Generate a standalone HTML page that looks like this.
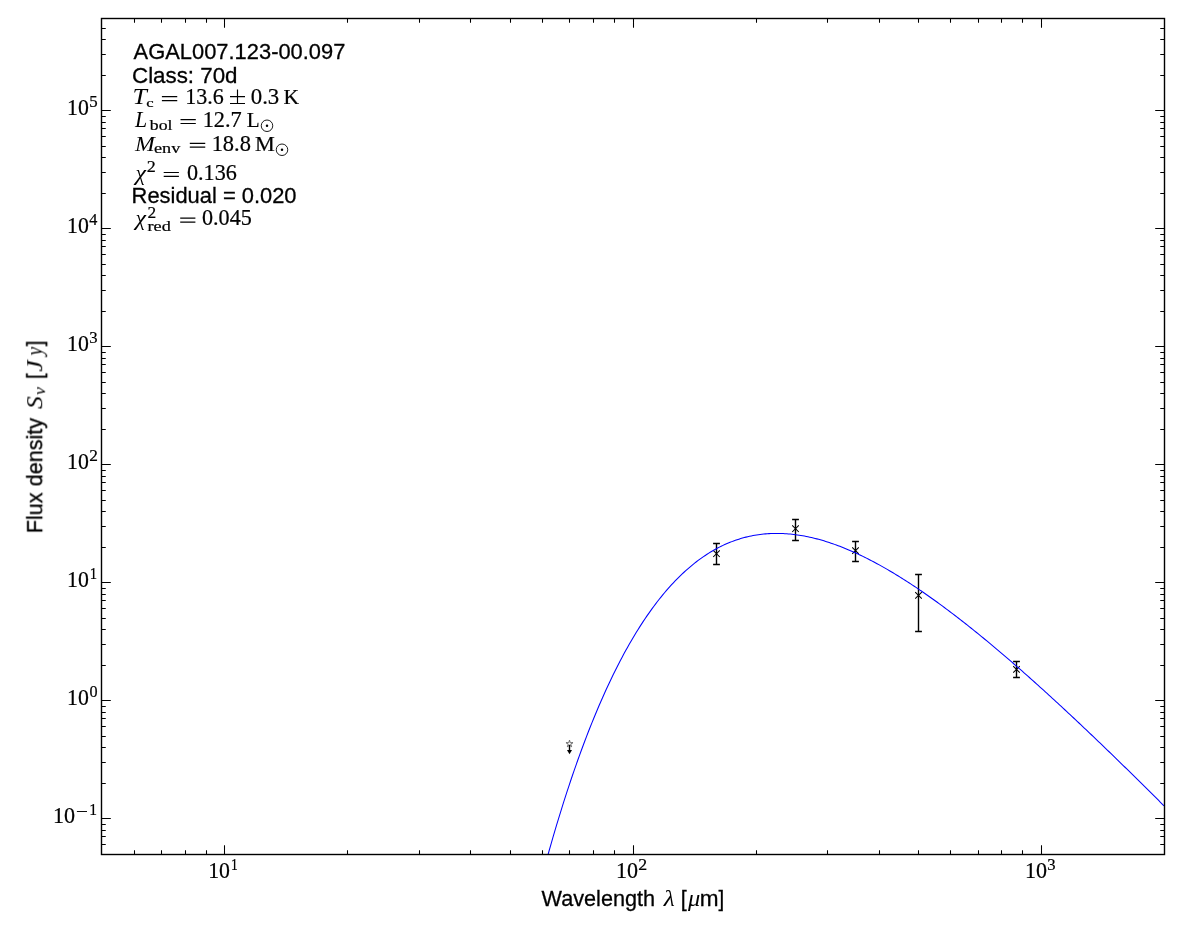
<!DOCTYPE html>
<html><head><meta charset="utf-8"><title>SED AGAL007.123-00.097</title>
<style>html,body{margin:0;padding:0;background:#fff;}body{width:1200px;height:933px;overflow:hidden;font-family:"Liberation Sans",sans-serif;}svg{display:block}text{fill:#000}</style></head><body>
<svg xmlns="http://www.w3.org/2000/svg" width="1200" height="933" viewBox="0 0 1200 933">
<rect x="0" y="0" width="1200" height="933" fill="#ffffff"/>
<defs><clipPath id="ax"><rect x="101.5" y="18.5" width="1063" height="836"/></clipPath></defs>
<path d="M134.5 854.5V850.25M134.5 18.5V22.75M161.5 854.5V850.25M161.5 18.5V22.75M185.5 854.5V850.25M185.5 18.5V22.75M206.5 854.5V850.25M206.5 18.5V22.75M224.5 854.5V845.2M224.5 18.5V27.8M347.5 854.5V850.25M347.5 18.5V22.75M419.5 854.5V850.25M419.5 18.5V22.75M470.5 854.5V850.25M470.5 18.5V22.75M510.5 854.5V850.25M510.5 18.5V22.75M542.5 854.5V850.25M542.5 18.5V22.75M569.5 854.5V850.25M569.5 18.5V22.75M593.5 854.5V850.25M593.5 18.5V22.75M614.5 854.5V850.25M614.5 18.5V22.75M633.5 854.5V845.2M633.5 18.5V27.8M756.5 854.5V850.25M756.5 18.5V22.75M827.5 854.5V850.25M827.5 18.5V22.75M879.5 854.5V850.25M879.5 18.5V22.75M918.5 854.5V850.25M918.5 18.5V22.75M950.5 854.5V850.25M950.5 18.5V22.75M978.5 854.5V850.25M978.5 18.5V22.75M1001.5 854.5V850.25M1001.5 18.5V22.75M1022.5 854.5V850.25M1022.5 18.5V22.75M1041.5 854.5V845.2M1041.5 18.5V27.8M101.5 844.5H105.75M1164.5 844.5H1160.25M101.5 836.5H105.75M1164.5 836.5H1160.25M101.5 830.5H105.75M1164.5 830.5H1160.25M101.5 824.5H105.75M1164.5 824.5H1160.25M101.5 818.5H110.8M1164.5 818.5H1155.2M101.5 783.5H105.75M1164.5 783.5H1160.25M101.5 762.5H105.75M1164.5 762.5H1160.25M101.5 747.5H105.75M1164.5 747.5H1160.25M101.5 736.5H105.75M1164.5 736.5H1160.25M101.5 726.5H105.75M1164.5 726.5H1160.25M101.5 718.5H105.75M1164.5 718.5H1160.25M101.5 712.5H105.75M1164.5 712.5H1160.25M101.5 706.5H105.75M1164.5 706.5H1160.25M101.5 700.5H110.8M1164.5 700.5H1155.2M101.5 665.5H105.75M1164.5 665.5H1160.25M101.5 644.5H105.75M1164.5 644.5H1160.25M101.5 629.5H105.75M1164.5 629.5H1160.25M101.5 618.5H105.75M1164.5 618.5H1160.25M101.5 608.5H105.75M1164.5 608.5H1160.25M101.5 600.5H105.75M1164.5 600.5H1160.25M101.5 594.5H105.75M1164.5 594.5H1160.25M101.5 588.5H105.75M1164.5 588.5H1160.25M101.5 582.5H110.8M1164.5 582.5H1155.2M101.5 547.5H105.75M1164.5 547.5H1160.25M101.5 526.5H105.75M1164.5 526.5H1160.25M101.5 511.5H105.75M1164.5 511.5H1160.25M101.5 500.5H105.75M1164.5 500.5H1160.25M101.5 490.5H105.75M1164.5 490.5H1160.25M101.5 482.5H105.75M1164.5 482.5H1160.25M101.5 476.5H105.75M1164.5 476.5H1160.25M101.5 470.5H105.75M1164.5 470.5H1160.25M101.5 464.5H110.8M1164.5 464.5H1155.2M101.5 429.5H105.75M1164.5 429.5H1160.25M101.5 408.5H105.75M1164.5 408.5H1160.25M101.5 393.5H105.75M1164.5 393.5H1160.25M101.5 382.5H105.75M1164.5 382.5H1160.25M101.5 372.5H105.75M1164.5 372.5H1160.25M101.5 364.5H105.75M1164.5 364.5H1160.25M101.5 358.5H105.75M1164.5 358.5H1160.25M101.5 352.5H105.75M1164.5 352.5H1160.25M101.5 346.5H110.8M1164.5 346.5H1155.2M101.5 311.5H105.75M1164.5 311.5H1160.25M101.5 290.5H105.75M1164.5 290.5H1160.25M101.5 275.5H105.75M1164.5 275.5H1160.25M101.5 264.5H105.75M1164.5 264.5H1160.25M101.5 254.5H105.75M1164.5 254.5H1160.25M101.5 246.5H105.75M1164.5 246.5H1160.25M101.5 240.5H105.75M1164.5 240.5H1160.25M101.5 234.5H105.75M1164.5 234.5H1160.25M101.5 228.5H110.8M1164.5 228.5H1155.2M101.5 193.5H105.75M1164.5 193.5H1160.25M101.5 172.5H105.75M1164.5 172.5H1160.25M101.5 157.5H105.75M1164.5 157.5H1160.25M101.5 146.5H105.75M1164.5 146.5H1160.25M101.5 136.5H105.75M1164.5 136.5H1160.25M101.5 128.5H105.75M1164.5 128.5H1160.25M101.5 122.5H105.75M1164.5 122.5H1160.25M101.5 116.5H105.75M1164.5 116.5H1160.25M101.5 110.5H110.8M1164.5 110.5H1155.2M101.5 75.5H105.75M1164.5 75.5H1160.25M101.5 54.5H105.75M1164.5 54.5H1160.25M101.5 39.5H105.75M1164.5 39.5H1160.25M101.5 28.5H105.75M1164.5 28.5H1160.25M101.5 18.5H105.75M1164.5 18.5H1160.25" stroke="#000" stroke-width="1.05" fill="none"/>
<path d="M716.5 543.5V564.5M713.1 543.5H719.9M713.1 564.5H719.9M795.5 519.5V540.5M792.1 519.5H798.9M792.1 540.5H798.9M855.5 541.5V561.5M852.1 541.5H858.9M852.1 561.5H858.9M918.5 574.5V631.5M915.1 574.5H921.9M915.1 631.5H921.9M1016.5 661.5V677.5M1013.1 661.5H1019.9M1013.1 677.5H1019.9" stroke="#000" stroke-width="1.4" fill="none"/>
<path d="M713.2 550.4L719.8 557M713.2 557L719.8 550.4M792.2 525.4L798.8 532M792.2 532L798.8 525.4M852.2 547.3L858.8 553.9M852.2 553.9L858.8 547.3M915.2 592.1L921.8 598.7M915.2 598.7L921.8 592.1M1013.2 666.1L1019.8 672.7M1013.2 672.7L1019.8 666.1" stroke="#000" stroke-width="1.05" fill="none"/>
<polygon points="569.5 740.1 570.26 742.75 573.02 742.66 570.74 744.2 571.67 746.79 569.5 745.1 567.33 746.79 568.26 744.2 565.98 742.66 568.74 742.75" fill="#fff" stroke="#6a6a6a" stroke-width="1"/>
<path d="M569.5 745V750.6" stroke="#000" stroke-width="1.4" fill="none"/>
<polygon points="567 750 572 750 569.5 754.3" fill="#000"/>
<path d="M533.46 909.58L535.23 902.57L537 895.65L538.77 888.82L540.54 882.08L542.31 875.43L544.08 868.87L545.86 862.41L547.63 856.03L549.4 849.74L551.17 843.53L552.94 837.41L554.71 831.38L556.48 825.43L558.25 819.56L560.02 813.78L561.8 808.08L563.57 802.45L565.34 796.91L567.11 791.45L568.88 786.07L570.65 780.76L572.42 775.53L574.19 770.38L575.96 765.3L577.74 760.3L579.51 755.37L581.28 750.51L583.05 745.73L584.82 741.01L586.59 736.37L588.36 731.8L590.13 727.3L591.9 722.87L593.68 718.5L595.45 714.21L597.22 709.98L598.99 705.81L600.76 701.71L602.53 697.68L604.3 693.71L606.07 689.8L607.84 685.96L609.62 682.18L611.39 678.46L613.16 674.81L614.93 671.21L616.7 667.67L618.47 664.19L620.24 660.77L622.01 657.41L623.78 654.11L625.56 650.86L627.33 647.67L629.1 644.54L630.87 641.46L632.64 638.43L634.41 635.46L636.18 632.55L637.95 629.68L639.73 626.87L641.5 624.12L643.27 621.41L645.04 618.75L646.81 616.15L648.58 613.59L650.35 611.08L652.12 608.63L653.89 606.22L655.67 603.86L657.44 601.55L659.21 599.28L660.98 597.06L662.75 594.89L664.52 592.76L666.29 590.68L668.06 588.64L669.83 586.65L671.61 584.7L673.38 582.79L675.15 580.93L676.92 579.11L678.69 577.33L680.46 575.6L682.23 573.9L684 572.25L685.77 570.63L687.55 569.06L689.32 567.53L691.09 566.03L692.86 564.57L694.63 563.16L696.4 561.78L698.17 560.44L699.94 559.13L701.71 557.87L703.49 556.63L705.26 555.44L707.03 554.28L708.8 553.16L710.57 552.07L712.34 551.02L714.11 550L715.88 549.01L717.66 548.06L719.43 547.14L721.2 546.26L722.97 545.4L724.74 544.58L726.51 543.79L728.28 543.04L730.05 542.31L731.82 541.62L733.6 540.95L735.37 540.32L737.14 539.72L738.91 539.14L740.68 538.6L742.45 538.08L744.22 537.59L745.99 537.13L747.76 536.7L749.54 536.3L751.31 535.93L753.08 535.58L754.85 535.26L756.62 534.96L758.39 534.7L760.16 534.45L761.93 534.24L763.7 534.05L765.48 533.88L767.25 533.74L769.02 533.62L770.79 533.53L772.56 533.47L774.33 533.42L776.1 533.4L777.87 533.4L779.64 533.43L781.42 533.48L783.19 533.55L784.96 533.65L786.73 533.76L788.5 533.9L790.27 534.06L792.04 534.24L793.81 534.44L795.59 534.66L797.36 534.91L799.13 535.17L800.9 535.46L802.67 535.76L804.44 536.08L806.21 536.42L807.98 536.79L809.75 537.17L811.53 537.57L813.3 537.98L815.07 538.42L816.84 538.88L818.61 539.35L820.38 539.84L822.15 540.34L823.92 540.87L825.69 541.41L827.47 541.97L829.24 542.54L831.01 543.14L832.78 543.74L834.55 544.37L836.32 545.01L838.09 545.66L839.86 546.33L841.63 547.02L843.41 547.72L845.18 548.44L846.95 549.17L848.72 549.91L850.49 550.67L852.26 551.45L854.03 552.24L855.8 553.04L857.57 553.85L859.35 554.68L861.12 555.53L862.89 556.38L864.66 557.25L866.43 558.13L868.2 559.02L869.97 559.93L871.74 560.85L873.52 561.78L875.29 562.73L877.06 563.68L878.83 564.65L880.6 565.63L882.37 566.62L884.14 567.62L885.91 568.63L887.68 569.65L889.46 570.69L891.23 571.73L893 572.79L894.77 573.86L896.54 574.93L898.31 576.02L900.08 577.12L901.85 578.22L903.62 579.34L905.4 580.47L907.17 581.6L908.94 582.75L910.71 583.91L912.48 585.07L914.25 586.24L916.02 587.43L917.79 588.62L919.56 589.82L921.34 591.03L923.11 592.24L924.88 593.47L926.65 594.7L928.42 595.95L930.19 597.2L931.96 598.46L933.73 599.72L935.5 601L937.28 602.28L939.05 603.57L940.82 604.87L942.59 606.17L944.36 607.48L946.13 608.8L947.9 610.13L949.67 611.46L951.45 612.8L953.22 614.15L954.99 615.5L956.76 616.86L958.53 618.23L960.3 619.6L962.07 620.99L963.84 622.37L965.61 623.76L967.39 625.16L969.16 626.57L970.93 627.98L972.7 629.4L974.47 630.82L976.24 632.25L978.01 633.69L979.78 635.13L981.55 636.57L983.33 638.02L985.1 639.48L986.87 640.94L988.64 642.41L990.41 643.88L992.18 645.36L993.95 646.85L995.72 648.33L997.49 649.83L999.27 651.33L1001.04 652.83L1002.81 654.34L1004.58 655.85L1006.35 657.37L1008.12 658.89L1009.89 660.42L1011.66 661.95L1013.43 663.49L1015.21 665.03L1016.98 666.57L1018.75 668.12L1020.52 669.67L1022.29 671.23L1024.06 672.79L1025.83 674.36L1027.6 675.93L1029.38 677.5L1031.15 679.08L1032.92 680.66L1034.69 682.24L1036.46 683.83L1038.23 685.43L1040 687.02L1041.77 688.62L1043.54 690.23L1045.32 691.83L1047.09 693.45L1048.86 695.06L1050.63 696.68L1052.4 698.3L1054.17 699.92L1055.94 701.55L1057.71 703.18L1059.48 704.82L1061.26 706.45L1063.03 708.1L1064.8 709.74L1066.57 711.39L1068.34 713.04L1070.11 714.69L1071.88 716.35L1073.65 718L1075.42 719.67L1077.2 721.33L1078.97 723L1080.74 724.67L1082.51 726.34L1084.28 728.02L1086.05 729.7L1087.82 731.38L1089.59 733.06L1091.36 734.75L1093.14 736.44L1094.91 738.13L1096.68 739.82L1098.45 741.52L1100.22 743.22L1101.99 744.92L1103.76 746.62L1105.53 748.33L1107.3 750.04L1109.08 751.75L1110.85 753.46L1112.62 755.18L1114.39 756.9L1116.16 758.62L1117.93 760.34L1119.7 762.06L1121.47 763.79L1123.25 765.52L1125.02 767.25L1126.79 768.98L1128.56 770.71L1130.33 772.45L1132.1 774.19L1133.87 775.93L1135.64 777.67L1137.41 779.42L1139.19 781.16L1140.96 782.91L1142.73 784.66L1144.5 786.41L1146.27 788.17L1148.04 789.92L1149.81 791.68L1151.58 793.44L1153.35 795.2L1155.13 796.96L1156.9 798.72L1158.67 800.49L1160.44 802.26L1162.21 804.03L1163.98 805.8" stroke="#0000ff" stroke-width="1.05" fill="none" clip-path="url(#ax)" stroke-linejoin="round"/>
<rect x="101.5" y="18.5" width="1063" height="836" fill="none" stroke="#000" stroke-width="1.4"/>
<g style="opacity:0.999">
<text transform="translate(208.2 877.9) scale(0.9871 1)" font-family='"Liberation Serif", serif' font-size="22.09" stroke="#000" stroke-width="0.22">10</text>
<text transform="translate(230.92 869.85) scale(0.8596 1)" font-family='"Liberation Serif", serif' font-size="15.77" stroke="#000" stroke-width="0.22">1</text>
<text transform="translate(616.08 877.9) scale(0.9975 1)" font-family='"Liberation Serif", serif' font-size="22.09" stroke="#000" stroke-width="0.22">10</text>
<text transform="translate(638.35 869.85) scale(1.1308 1)" font-family='"Liberation Serif", serif' font-size="15.77" stroke="#000" stroke-width="0.22">2</text>
<text transform="translate(1025.08 877.9) scale(0.9975 1)" font-family='"Liberation Serif", serif' font-size="22.09" stroke="#000" stroke-width="0.22">10</text>
<text transform="translate(1047.22 869.85) scale(1.0573 1)" font-family='"Liberation Serif", serif' font-size="15.77" stroke="#000" stroke-width="0.22">3</text>
<text transform="translate(52.88 822.7)" font-family='"Liberation Serif", serif' font-size="22.09" stroke="#000" stroke-width="0.22">10</text>
<path d="M76.9 811.5H87" stroke="#000" stroke-width="0.95" fill="none"/>
<text transform="translate(89.35 815) scale(0.9855 1)" font-family='"Liberation Serif", serif' font-size="15.77" stroke="#000" stroke-width="0.22">1</text>
<text transform="translate(67 705) scale(0.9871 1)" font-family='"Liberation Serif", serif' font-size="22.09" stroke="#000" stroke-width="0.22">10</text>
<text transform="translate(89.6 696.95) scale(1.0262 1)" font-family='"Liberation Serif", serif' font-size="15.77" stroke="#000" stroke-width="0.22">0</text>
<text transform="translate(67 587) scale(0.9871 1)" font-family='"Liberation Serif", serif' font-size="22.09" stroke="#000" stroke-width="0.22">10</text>
<text transform="translate(89.82 578.95) scale(0.9316 1)" font-family='"Liberation Serif", serif' font-size="15.77" stroke="#000" stroke-width="0.22">1</text>
<text transform="translate(67 469) scale(0.9871 1)" font-family='"Liberation Serif", serif' font-size="22.09" stroke="#000" stroke-width="0.22">10</text>
<text transform="translate(89.17 460.95) scale(1.0993 1)" font-family='"Liberation Serif", serif' font-size="15.77" stroke="#000" stroke-width="0.22">2</text>
<text transform="translate(67 351) scale(0.9871 1)" font-family='"Liberation Serif", serif' font-size="22.09" stroke="#000" stroke-width="0.22">10</text>
<text transform="translate(89.32 342.95) scale(1.0573 1)" font-family='"Liberation Serif", serif' font-size="15.77" stroke="#000" stroke-width="0.22">3</text>
<text transform="translate(67 233) scale(0.9871 1)" font-family='"Liberation Serif", serif' font-size="22.09" stroke="#000" stroke-width="0.22">10</text>
<text transform="translate(89.29 224.95) scale(1.0266 1)" font-family='"Liberation Serif", serif' font-size="15.77" stroke="#000" stroke-width="0.22">4</text>
<text transform="translate(67 115) scale(0.9871 1)" font-family='"Liberation Serif", serif' font-size="22.09" stroke="#000" stroke-width="0.22">10</text>
<text transform="translate(89.14 106.95) scale(1.0678 1)" font-family='"Liberation Serif", serif' font-size="15.77" stroke="#000" stroke-width="0.22">5</text>
<text transform="translate(541.54 905.7) scale(0.9679 1)" font-family='"Liberation Sans", sans-serif' font-size="22.4" stroke="#000" stroke-width="0.3">Wavelength</text>
<text transform="translate(663.64 905.7) scale(1.1421 1)" font-family='"Liberation Serif", serif' font-size="22.27" font-style="italic">&#955;</text>
<text transform="translate(680.64 905.7) scale(0.9598 1)" font-family='"Liberation Sans", sans-serif' font-size="22.4" stroke="#000" stroke-width="0.3">[</text>
<text transform="translate(688 905.7) scale(1.1035 1)" font-family='"Liberation Serif", serif' font-size="22.17" font-style="italic">&#956;</text>
<text transform="translate(699.83 905.7) scale(1.0077 1)" font-family='"Liberation Sans", sans-serif' font-size="22.4" stroke="#000" stroke-width="0.3">m</text>
<text transform="translate(718.6 905.7) scale(0.9152 1)" font-family='"Liberation Sans", sans-serif' font-size="22.4" stroke="#000" stroke-width="0.3">]</text>
<g transform="translate(42.2 531.5) rotate(-90)">
<text transform="translate(-1.63 0) scale(0.9643 1)" font-family='"Liberation Sans", sans-serif' font-size="22.4" stroke="#000" stroke-width="0.3">Flux density</text>
<text transform="translate(122.58 0) scale(1.0984 1)" font-family='"Liberation Serif", serif' font-size="23.25" font-style="italic">S</text>
<text transform="translate(136.53 3.2) scale(1.1284 1)" font-family='"Liberation Serif", serif' font-size="15.87" font-style="italic">&#957;</text>
<text transform="translate(152.41 0) scale(0.9152 1)" font-family='"Liberation Sans", sans-serif' font-size="22.4" stroke="#000" stroke-width="0.3">[</text>
<text transform="translate(159.81 -0.2) scale(1.1395 1)" font-family='"Liberation Serif", serif' font-size="22.9" font-style="italic">J</text>
<text transform="translate(176.1 0.1) scale(0.8636 1)" font-family='"Liberation Serif", serif' font-size="22.39" font-style="italic">y</text>
<text transform="translate(185.2 0) scale(0.9152 1)" font-family='"Liberation Sans", sans-serif' font-size="22.4" stroke="#000" stroke-width="0.3">]</text>
</g>
<text transform="translate(133.6 59) scale(0.9778 1)" font-family='"Liberation Sans", sans-serif' font-size="22.4" stroke="#000" stroke-width="0.3">AGAL007.123-00.097</text>
<text transform="translate(132.03 83) scale(0.9974 1)" font-family='"Liberation Sans", sans-serif' font-size="22.4" stroke="#000" stroke-width="0.3">Class: 70d</text>
<text transform="translate(132.52 104) scale(1.1504 1)" font-family='"Liberation Serif", serif' font-size="22.44" font-style="italic">T</text>
<text transform="translate(146.24 106.7) scale(1.3671 1)" font-family='"Liberation Serif", serif' font-size="12.15" stroke="#000" stroke-width="0.22">c</text>
<path d="M161.9 96.7H177.25M161.9 100.6H177.25" stroke="#000" stroke-width="1.2" fill="none"/>
<text transform="translate(185.28 104) scale(0.9977 1)" font-family='"Liberation Serif", serif' font-size="22.09" stroke="#000" stroke-width="0.22">13.6</text>
<path d="M230 96.6H245M237.5 89.6V103M230 103.5H245" stroke="#000" stroke-width="1.15" fill="none"/>
<text transform="translate(250.75 104) scale(1.0339 1)" font-family='"Liberation Serif", serif' font-size="22.09" stroke="#000" stroke-width="0.22">0.3</text>
<text transform="translate(283.52 104) scale(0.9821 1)" font-family='"Liberation Serif", serif' font-size="21.97" stroke="#000" stroke-width="0.22">K</text>
<text transform="translate(135.02 126.9) scale(0.9798 1)" font-family='"Liberation Serif", serif' font-size="22.37" font-style="italic">L</text>
<text transform="translate(149.86 129.5) scale(1.2204 1)" font-family='"Liberation Serif", serif' font-size="14.52" stroke="#000" stroke-width="0.22">bol</text>
<path d="M180.5 119.6H195.8M180.5 123.5H195.8" stroke="#000" stroke-width="1.2" fill="none"/>
<text transform="translate(202.66 126.9) scale(1.0114 1)" font-family='"Liberation Serif", serif' font-size="22.09" stroke="#000" stroke-width="0.22">12.7</text>
<text transform="translate(246.78 126.9) scale(0.9609 1)" font-family='"Liberation Serif", serif' font-size="21.97" stroke="#000" stroke-width="0.22">L</text>
<circle cx="267" cy="125.75" r="5.75" fill="none" stroke="#000" stroke-width="0.9"/><circle cx="267" cy="125.75" r="1.25" fill="#000"/>
<text transform="translate(135.05 150.6) scale(1.0868 1)" font-family='"Liberation Serif", serif' font-size="21.91" font-style="italic">M</text>
<text transform="translate(153.98 153.3) scale(1.2758 1)" font-family='"Liberation Serif", serif' font-size="14.33" stroke="#000" stroke-width="0.22">env</text>
<path d="M189.8 143.3H205.25M189.8 147.2H205.25" stroke="#000" stroke-width="1.2" fill="none"/>
<text transform="translate(211.64 150.6) scale(1.0176 1)" font-family='"Liberation Serif", serif' font-size="22.09" stroke="#000" stroke-width="0.22">18.8</text>
<text transform="translate(255 150.6) scale(1.0202 1)" font-family='"Liberation Serif", serif' font-size="21.82" stroke="#000" stroke-width="0.22">M</text>
<circle cx="282" cy="149.75" r="5.75" fill="none" stroke="#000" stroke-width="0.9"/><circle cx="282" cy="149.75" r="1.25" fill="#000"/>
<text transform="translate(135.4 179.7) scale(1.1735 1)" font-family='"Liberation Serif", serif' font-size="20.2" font-style="italic">&#967;</text>
<text transform="translate(146.84 172.2) scale(1.1466 1)" font-family='"Liberation Serif", serif' font-size="15.77" stroke="#000" stroke-width="0.22">2</text>
<path d="M163.7 172.5H178.9M163.7 176.4H178.9" stroke="#000" stroke-width="1.2" fill="none"/>
<text transform="translate(186.98 179.6) scale(1.0035 1)" font-family='"Liberation Serif", serif' font-size="22.09" stroke="#000" stroke-width="0.22">0.136</text>
<text transform="translate(131.59 203) scale(0.9784 1)" font-family='"Liberation Sans", sans-serif' font-size="22.4" stroke="#000" stroke-width="0.3">Residual = 0.020</text>
<text transform="translate(135.4 225.4) scale(1.1735 1)" font-family='"Liberation Serif", serif' font-size="20.2" font-style="italic">&#967;</text>
<text transform="translate(147.62 217.8) scale(1.0993 1)" font-family='"Liberation Serif", serif' font-size="15.77" stroke="#000" stroke-width="0.22">2</text>
<text transform="translate(147.54 231.45) scale(1.2648 1)" font-family='"Liberation Serif", serif' font-size="14.43" stroke="#000" stroke-width="0.22">red</text>
<path d="M180.2 218.2H195.4M180.2 222.1H195.4" stroke="#000" stroke-width="1.2" fill="none"/>
<text transform="translate(201.98 225.3) scale(1.0019 1)" font-family='"Liberation Serif", serif' font-size="22.09" stroke="#000" stroke-width="0.22">0.045</text>
</g>
</svg></body></html>
